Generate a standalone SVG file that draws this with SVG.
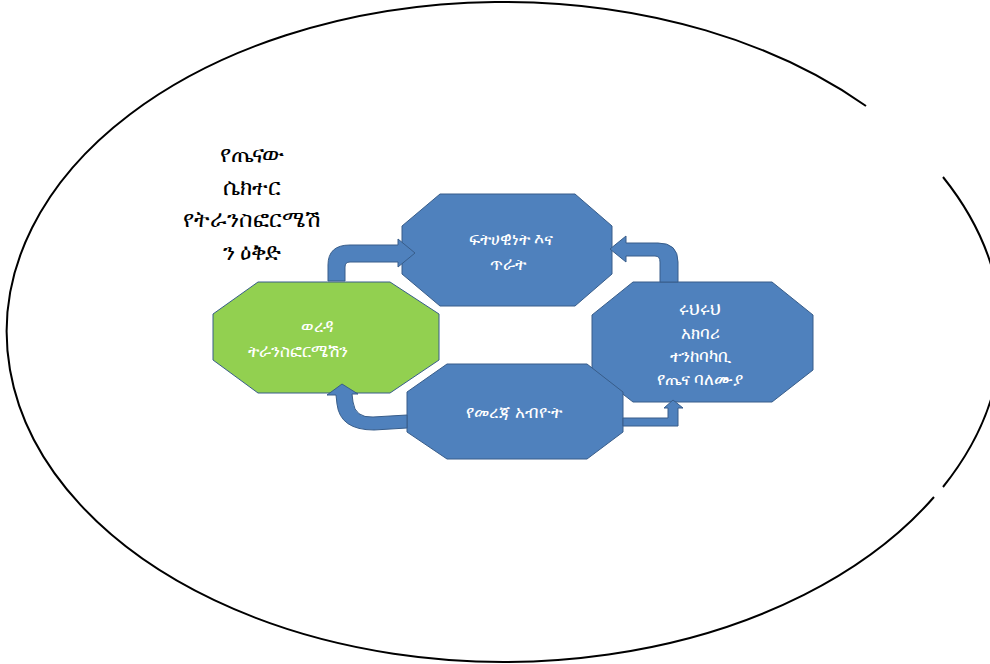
<svg xmlns="http://www.w3.org/2000/svg" width="990" height="664" viewBox="0 0 990 664">
  <style>
    .oct { fill: #4F81BD; stroke: #385D8A; stroke-width: 1; }
    .green { fill: #92D050; stroke: #385D8A; stroke-width: 1; }
    .arrow { fill: #4F81BD; stroke: #385D8A; stroke-width: 1; stroke-linejoin: miter; }
    .wt { fill: #FFFFFF; font-family: "Noto Sans", "DejaVu Sans", sans-serif; font-size: 17px; text-anchor: middle; }
    .bt { fill: #000000; font-family: "Noto Sans", "DejaVu Sans", sans-serif; font-size: 23px; text-anchor: middle; }
  </style>
  <rect x="0" y="0" width="990" height="664" fill="#FFFFFF"/>
  <g id="outline">
    <path d="M 943,177 A 497 330 0 0 1 943,487 M 934,497 A 497 330 0 1 1 866,106" fill="none" stroke="#000000" stroke-width="2"/>
  </g>
  <g id="title">
    <text class="bt" x="252" y="162">የጤናው</text>
    <text class="bt" x="252" y="195">ሴክተር</text>
    <text class="bt" x="252" y="227">የትራንስፎርሜሽ</text>
    <text class="bt" x="252" y="260">ን ዕቅድ</text>
  </g>
  <g id="node-top">
    <polygon class="oct" points="440,194 575,194 612,226 612,274 575,306 440,306 402,274 402,226"/>
    <text class="wt" x="511" y="245">ፍትሀዊነት እና</text>
    <text class="wt" x="508" y="270">ጥራት</text>
  </g>
  <g id="node-right">
    <polygon class="oct" points="633,282 772,282 813,315 813,370 772,402 633,402 592,370 592,315"/>
    <text class="wt" x="700" y="315">ሩህሩህ</text>
    <text class="wt" x="700" y="339">አክባሪ</text>
    <text class="wt" x="700" y="362">ተንከባካቢ</text>
    <text class="wt" x="700" y="385">የጤና ባለሙያ</text>
  </g>
  <g id="node-left">
    <polygon class="green" points="258,282 390,282 439,314 439,360 390,393 258,393 213,360 213,314"/>
    <text class="wt" x="317" y="332">ወረዳ</text>
    <text class="wt" x="298" y="357">ትራንስፎርሜሽን</text>
  </g>
  <g id="node-bottom">
    <polygon class="oct" points="447,364 587,364 623,392 623,432 587,459 447,459 407,432 407,392"/>
    <text class="wt" x="514" y="418">የመረጃ አብዮት</text>
  </g>
  <g id="connectors">
    <path class="arrow" d="M 328,281 L 328,265 Q 328,245 350,245 L 398,245 L 398,239 L 415,253 L 398,267 L 398,262 L 350,262 Q 345,262 345,267 L 345,281 Z"/>
    <path class="arrow" d="M 678,282 L 678,262 Q 678,243 658,243 L 626,243 L 626,236 L 610,249 L 626,262 L 626,256 L 655,256 Q 660,256 660,262 L 660,282 Z"/>
    <path class="arrow" d="M 623,418 L 668,418 L 668,408 L 664,408 L 673,400 L 683,408 L 678,408 L 678,426 L 623,426 Z"/>
    <path class="arrow" d="M 407,415 L 373,417 Q 355,418 353,402 L 352,394 L 358,394 L 342,384 L 327,395 L 336,395 L 337,404 Q 340,430 374,430 L 407,428 Z"/>
  </g>
</svg>
